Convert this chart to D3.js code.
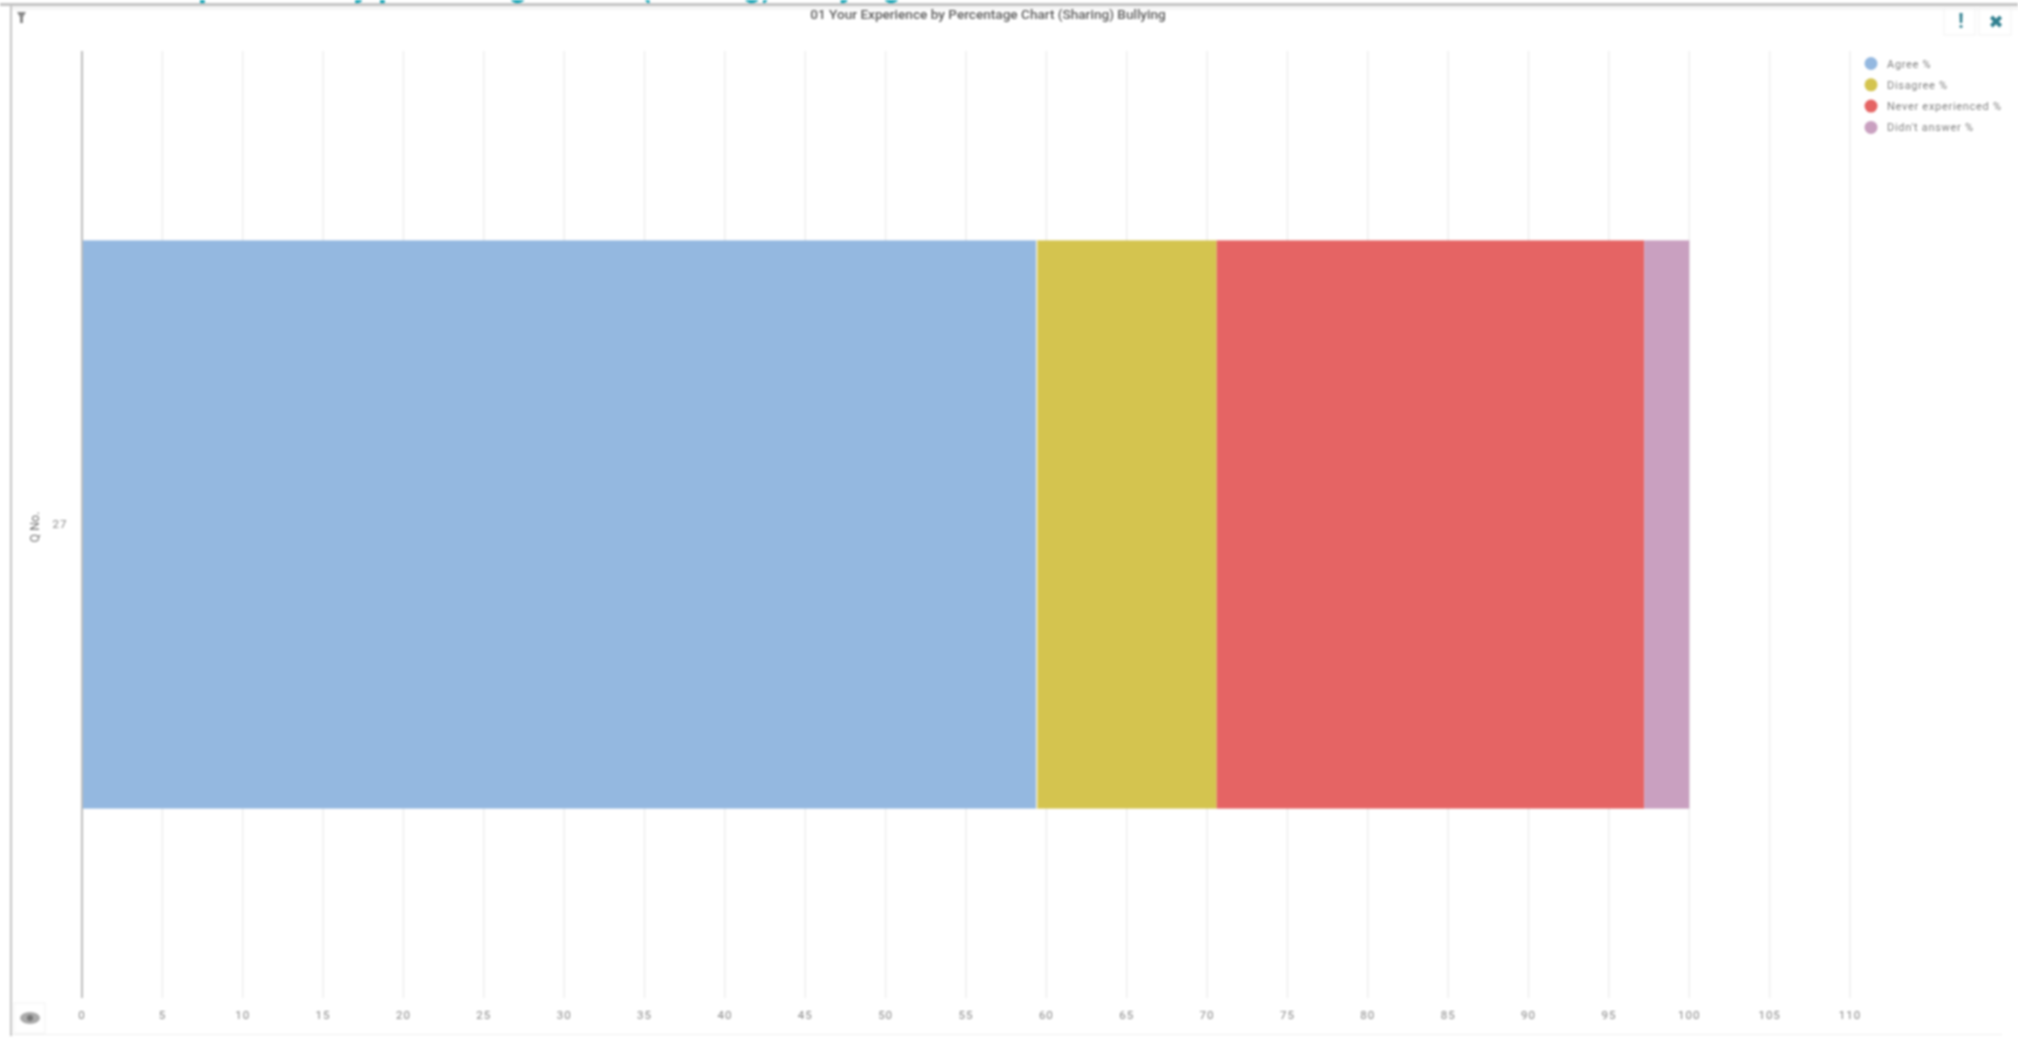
<!doctype html>
<html>
<head>
    <style>
        html, body { margin: 0; padding: 0; background: #fff; overflow: hidden; }
        svg { display: block; filter: blur(0.8px); }
        text { font-family: Roboto, sans-serif; }
        .grid line { stroke: #eeeeee; stroke-width: 1.5; }
        .tick-label { font-size: 11.5px; fill: #858585; letter-spacing: 1px; }
        .legend-label { font-size: 11px; fill: #808080; letter-spacing: 0.7px; }
    </style>
</head>
<body>
    <svg id="chart"></svg>
    <script src="https://cdnjs.cloudflare.com/ajax/libs/d3/7.8.5/d3.min.js"></script>
    <script>
        var heading = '01 Your Experience by percentage chart (sharing) Bullying';
        var title = '01 Your Experience by Percentage Chart (Sharing) Bullying';
        var categories = ['27'];
        var seriesNames = ['Agree %', 'Disagree %', 'Never experienced %', "Didn't answer %"];
        var agree = [59.4];
        var disagree = [11.2];
        var neverExperienced = [26.6];
        var didntAnswer = [2.8];
        var xTicks = d3.range(0, 111, 5);
        var colors = ['#94b8e0', '#d4c44f', '#e56464', '#c9a0c0'];

        var width = 2018, height = 1039;
        var svg = d3.select('#chart').attr('width', width).attr('height', height);

        var x = d3.scaleLinear().domain([0, 110]).range([82, 1850]);
        var y = d3.scaleBand().domain(categories).range([51, 998]).paddingInner(0.4).paddingOuter(0.2);

        // big page heading, cut off by the top of the screenshot
        svg.append('text')
            .attr('x', 40).attr('y', -4)
            .attr('font-size', 33).attr('font-weight', 700)
            .attr('fill', '#0aa3b5')
            .text(heading);

        // panel frame
        svg.append('rect').attr('x', 0).attr('y', 4).attr('width', width).attr('height', 1035).attr('fill', '#fff');
        svg.append('rect').attr('x', 0).attr('y', 3).attr('width', width).attr('height', 3).attr('fill', '#c4c4c4');
        svg.append('rect').attr('x', 12).attr('y', 6).attr('width', width).attr('height', 4).attr('fill', '#f5f5f5');
        svg.append('rect').attr('x', 10).attr('y', 3).attr('width', 2).attr('height', 1033).attr('fill', '#c4c4c4');
        svg.append('rect').attr('x', 12).attr('y', 1034).attr('width', 1990).attr('height', 1).attr('fill', '#efefef');

        svg.append('text')
            .attr('x', 988).attr('y', 19)
            .attr('text-anchor', 'middle')
            .attr('font-size', 13.6).attr('font-weight', 500)
            .attr('fill', '#5c5c5c')
            .text(title);

        // grid
        svg.append('g').attr('class', 'grid')
            .selectAll('line')
            .data(xTicks.filter(function(d) { return d > 0; }))
            .join('line')
            .attr('x1', function(d) { return x(d); })
            .attr('x2', function(d) { return x(d); })
            .attr('y1', 51).attr('y2', 998);

        // stacked bar
        var rows = categories.map(function(c, i) {
            return { category: c, 0: agree[i], 1: disagree[i], 2: neverExperienced[i], 3: didntAnswer[i] };
        });
        var stack = d3.stack().keys([0, 1, 2, 3])(rows);
        svg.append('g').selectAll('g')
            .data(stack)
            .join('g')
            .attr('fill', function(d) { return colors[d.key]; })
            .selectAll('rect')
            .data(function(d) { return d; })
            .join('rect')
            .attr('x', function(d) { return x(d[0]); })
            .attr('width', function(d) { return x(d[1]) - x(d[0]); })
            .attr('y', function(d) { return y(d.data.category); })
            .attr('height', y.bandwidth());

        // white seam between agree and disagree
        svg.append('line')
            .attr('x1', x(agree[0])).attr('x2', x(agree[0]))
            .attr('y1', y(categories[0])).attr('y2', y(categories[0]) + y.bandwidth())
            .attr('stroke', '#f4f1dc').attr('stroke-width', 1.5);

        // axes
        svg.append('line')
            .attr('x1', x(0)).attr('x2', x(0))
            .attr('y1', 51).attr('y2', 998)
            .attr('stroke', '#bdbdbd').attr('stroke-width', 2);

        svg.append('g').selectAll('text')
            .data(xTicks)
            .join('text')
            .attr('class', 'tick-label')
            .attr('x', function(d) { return x(d); })
            .attr('y', 1019)
            .attr('text-anchor', 'middle')
            .text(function(d) { return d; });

        svg.append('text')
            .attr('class', 'tick-label')
            .attr('x', 60).attr('y', 528)
            .attr('text-anchor', 'middle')
            .text(categories[0]);

        svg.append('text')
            .attr('transform', 'translate(39,527) rotate(-90)')
            .attr('text-anchor', 'middle')
            .attr('font-size', 12.5).attr('fill', '#707070')
            .text('Q No.');

        // legend
        var legend = svg.append('g').selectAll('g')
            .data(seriesNames)
            .join('g')
            .attr('transform', function(d, i) { return 'translate(1871,' + (63.5 + i * 21.3) + ')'; });
        legend.append('circle')
            .attr('r', 6.5)
            .attr('fill', function(d, i) { return colors[i]; });
        legend.append('text')
            .attr('class', 'legend-label')
            .attr('x', 16).attr('y', 4)
            .text(function(d) { return d; });

        // toolbar icons
        svg.append('path')
            .attr('d', d3.line()([[17, 12], [26, 12], [23, 17], [23, 23], [20, 23], [20, 17]]) + 'Z')
            .attr('fill', '#888');

        svg.append('rect').attr('x', 1944).attr('y', 9).attr('width', 31).attr('height', 26).attr('fill', '#fff')
            .attr('stroke', '#f2f2f2');
        svg.append('rect').attr('x', 1979).attr('y', 9).attr('width', 32).attr('height', 26).attr('fill', '#fff')
            .attr('stroke', '#f2f2f2');
        svg.append('text')
            .attr('x', 1961).attr('y', 28)
            .attr('text-anchor', 'middle')
            .attr('font-size', 20).attr('font-weight', 700)
            .attr('fill', '#2f7f8f')
            .text('!');
        svg.append('text')
            .attr('x', 1996).attr('y', 28)
            .attr('text-anchor', 'middle')
            .attr('font-family', 'DejaVu Sans')
            .attr('font-size', 18).attr('font-weight', 700)
            .style('font-family', 'DejaVu Sans')
            .attr('fill', '#2f7f8f')
            .text('✖');

        svg.append('rect').attr('x', 14).attr('y', 1003).attr('width', 31).attr('height', 30).attr('fill', '#fff')
            .attr('stroke', '#f2f2f2');
        svg.append('ellipse').attr('cx', 30).attr('cy', 1018).attr('rx', 10).attr('ry', 6).attr('fill', '#aaa');
        svg.append('circle').attr('cx', 30).attr('cy', 1018).attr('r', 3).attr('fill', '#777');
    </script>
</body>
</html>
